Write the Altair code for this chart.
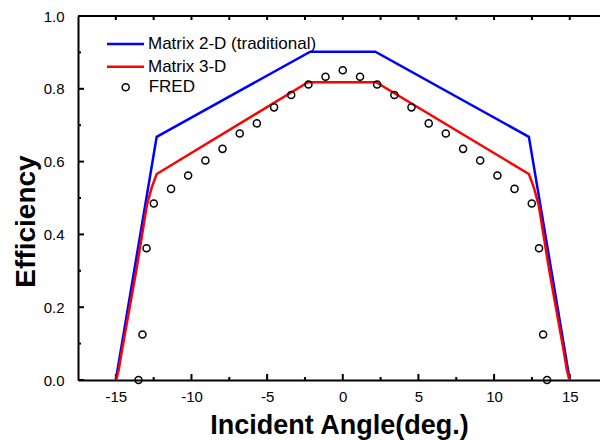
import altair as alt
import pandas as pd

# Matrix 2-D (traditional) model curve
m2d_angle = [-15.0, -12.3, -2.15, 2.15, 12.3, 15.0]
m2d_eff = [0.0, 0.668, 0.902, 0.902, 0.668, 0.0]

# Matrix 3-D model curve
m3d_angle = [-14.97, -14.8, -14.6, -13.65, -12.95, -12.62, -12.3, -2.3,
             2.2, 12.3, 12.62, 12.95, 13.65, 14.6, 14.8, 14.97]
m3d_eff = [0.0, 0.03, 0.08, 0.3, 0.48, 0.53, 0.566, 0.818,
           0.818, 0.566, 0.53, 0.48, 0.3, 0.08, 0.03, 0.0]

# FRED ray-trace results
fred_angle = [-13.5, -13.24, -12.97, -12.49, -11.35, -10.22, -9.08, -7.95,
              -6.81, -5.68, -4.54, -3.41, -2.27, -1.14, 0.0,
              1.14, 2.27, 3.41, 4.54, 5.68, 6.81, 7.95, 9.08,
              10.22, 11.35, 12.49, 12.97, 13.24, 13.5]
fred_eff = [0.0, 0.125, 0.362, 0.485, 0.525, 0.562, 0.603, 0.635,
            0.677, 0.705, 0.749, 0.783, 0.812, 0.833, 0.851,
            0.833, 0.812, 0.783, 0.749, 0.705, 0.677, 0.635, 0.603,
            0.562, 0.525, 0.485, 0.362, 0.125, 0.0]

# tick positions
x_major = [-15, -10, -5, 0, 5, 10, 15]
x_minor = [-12.5, -7.5, -2.5, 2.5, 7.5, 12.5]
y_major = [0.0, 0.2, 0.4, 0.6, 0.8, 1.0]
y_minor = [0.1, 0.3, 0.5, 0.7, 0.9]

series_names = ["Matrix 2-D (traditional)", "Matrix 3-D"]
series_colors = ["#0000ff", "#ff0000"]

FONT = "Liberation Sans"
W, H = 522, 364

m2d = pd.DataFrame({"angle": m2d_angle, "eff": m2d_eff, "model": series_names[0]})
m3d = pd.DataFrame({"angle": m3d_angle, "eff": m3d_eff, "model": series_names[1]})
fred = pd.DataFrame({"angle": fred_angle, "eff": fred_eff, "method": "FRED"})

x_scale = alt.Scale(domain=[-17.5, 17.0], nice=False, zero=False)
y_scale = alt.Scale(domain=[0, 1], nice=False)

common_axis = dict(
    domainColor="black", domainWidth=2, ticks=False, grid=False,
    labelFont=FONT, labelFontSize=15, labelColor="black",
    titleFont=FONT, titleFontWeight="bold", titleColor="black",
)

x_axis = alt.Axis(
    orient="bottom", values=x_major, title="Incident Angle(deg.)",
    labelExpr="replace(datum.label, '\u2212', '-')",
    labelPadding=9, titlePadding=8, titleFontSize=27, **common_axis,
)
y_axis = alt.Axis(
    orient="left", values=y_major, title="Efficiency", format=".1f",
    labelPadding=14, titlePadding=3, titleFontSize=28, titleY=205,
    **common_axis,
)


def X(field):
    return alt.X(f"{field}:Q", scale=x_scale, axis=x_axis)


def Y(field):
    return alt.Y(f"{field}:Q", scale=y_scale, axis=y_axis)


line_color = alt.Color(
    "model:N",
    scale=alt.Scale(domain=series_names, range=series_colors),
    legend=alt.Legend(
        orient="none", legendX=39, legendY=19.5, title=None,
        symbolType="M-5,0H5", symbolSize=55, symbolStrokeWidth=2.5,
        labelFont=FONT, labelFontSize=17, labelColor="black", labelLimit=400,
        labelOffset=14, rowPadding=4.7, padding=0,
    ),
)

blue = alt.Chart(m2d).mark_line(strokeWidth=2.5).encode(
    x=X("angle"), y=Y("eff"), color=line_color,
)

red = alt.Chart(m3d).mark_line(strokeWidth=2.5).encode(
    x=X("angle"), y=Y("eff"), color=line_color,
)

points = alt.Chart(fred).mark_point(
    filled=False, color="black", strokeWidth=1.5, size=50, opacity=1
).encode(
    x=X("angle"), y=Y("eff"),
    shape=alt.Shape(
        "method:N",
        scale=alt.Scale(domain=["FRED"], range=["circle"]),
        legend=alt.Legend(
            orient="none", legendX=39.2, legendY=62.8, title=None,
            symbolSize=50, symbolStrokeWidth=1.5, symbolStrokeColor="black",
            labelFont=FONT, labelFontSize=17, labelColor="black",
            labelOffset=14.5, padding=0,
        ),
    ),
)

# inward tick marks on the frame
def x_ticks(values, y0, y1):
    return alt.Chart(pd.DataFrame({"angle": values})).mark_rule(
        color="black", strokeWidth=2
    ).encode(x=X("angle"), y=alt.value(y0), y2=alt.value(y1))


def y_ticks(values, length):
    return alt.Chart(pd.DataFrame({"eff": values})).mark_rule(
        color="black", strokeWidth=2
    ).encode(y=Y("eff"), x=alt.value(0), x2=alt.value(length))


top_line = alt.Chart(pd.DataFrame({"edge": [1.0]})).mark_rule(
    color="black", strokeWidth=2
).encode(y=Y("edge"), x=alt.value(0), x2=alt.value(W))

ticks = [
    x_ticks(x_major, H, H - 6),
    x_ticks(x_minor, H, H - 3),
    x_ticks(x_major + x_minor, 0, 4),
    y_ticks(y_major, 6),
    y_ticks(y_minor, 3),
]

chart = (
    alt.layer(*ticks, top_line, blue, red, points)
    .properties(
        width=W, height=H,
        autosize=alt.AutoSizeParams(type="none"),
        padding={"left": 78, "top": 16, "right": 0, "bottom": 60},
        background="white",
    )
    .configure_view(stroke="transparent")
)

chart.save("out.html", embed_options={"renderer": "svg", "actions": False})
